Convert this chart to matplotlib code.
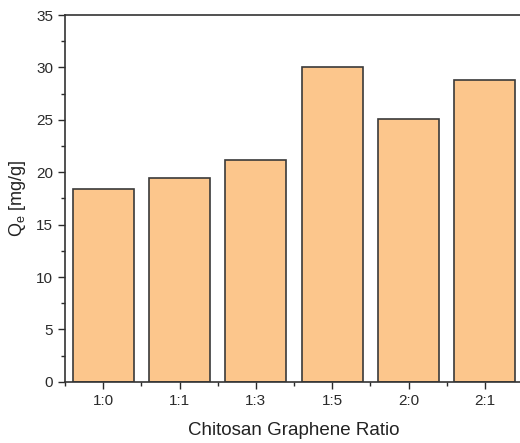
import matplotlib
matplotlib.use('Agg')
import matplotlib.pyplot as plt
from matplotlib.ticker import MultipleLocator

plt.rcParams['font.family'] = ['Liberation Sans', 'DejaVu Sans']

ratios = ['1:0', '1:1', '1:3', '1:5', '2:0', '2:1']
qe = [18.4, 19.5, 21.2, 30.0, 25.1, 28.8]

fig = plt.figure(figsize=(5.2, 4.43), dpi=100)
ax = fig.add_axes([0.125, 0.138, 0.881, 0.828])

x = list(range(len(ratios)))
ax.bar(x, qe, width=0.8, color='#fcc68c', edgecolor='#3a3a3a', linewidth=1.2)

ax.set_xlim(-0.5, 5.5)
ax.set_ylim(0, 35)
ax.set_xticks(x)
ax.set_xticklabels(ratios)
ax.xaxis.set_minor_locator(MultipleLocator(0.5))
ax.yaxis.set_major_locator(MultipleLocator(5))
ax.yaxis.set_minor_locator(MultipleLocator(2.5))
ax.tick_params(which='major', direction='out', length=5, width=1, labelsize=11, colors='#2a2a2a')
ax.tick_params(which='minor', direction='out', length=3, width=1, colors='#2a2a2a')
ax.tick_params(axis='x', which='minor', bottom=True)

for s in ['left', 'bottom', 'top', 'right']:
    ax.spines[s].set_color('#333333')
    ax.spines[s].set_linewidth(1.2)

ax.set_xlabel('Chitosan Graphene Ratio', fontsize=13.5, color='#222222', labelpad=10)
ax.set_ylabel('Q$_\\mathregular{e}$ [mg/g]', fontsize=13, color='#222222', labelpad=6)

fig.savefig('out.png', dpi=100)
